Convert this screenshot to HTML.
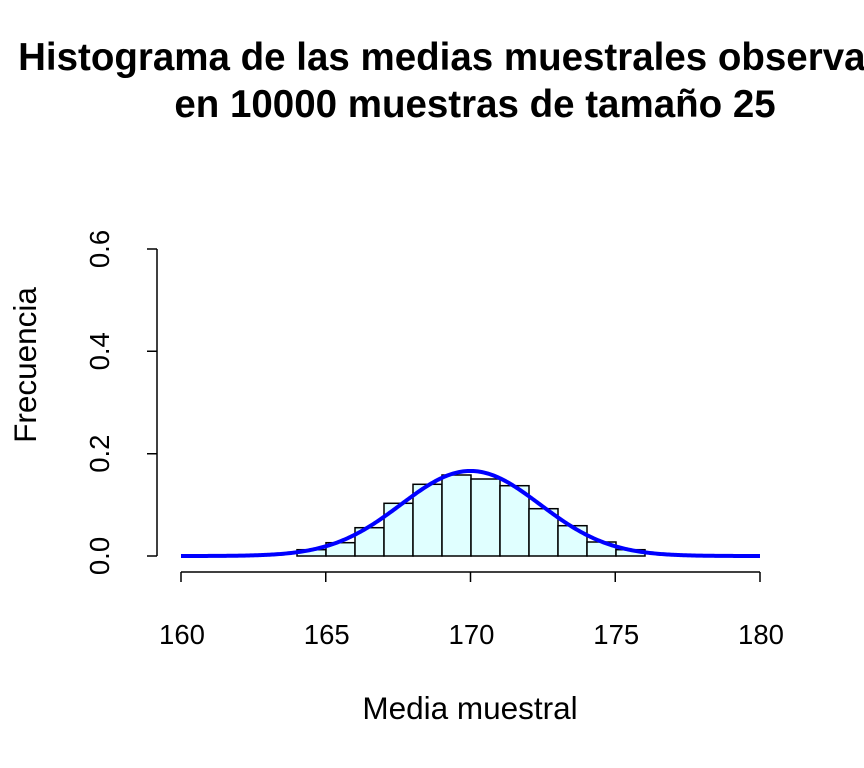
<!DOCTYPE html>
<html><head><meta charset="utf-8"><style>body{margin:0;background:#fff}svg{display:block}</style></head><body>
<svg width="864" height="768" xmlns="http://www.w3.org/2000/svg" font-family="Liberation Sans, Arial, sans-serif">
<rect width="864" height="768" fill="#fff"/>
<g font-weight="bold" font-size="38.5" text-anchor="middle">
<text x="475" y="70">Histograma de las medias muestrales observadas</text>
<text x="475" y="117">en 10000 muestras de tamaño 25</text>
</g>
<g stroke="#000" stroke-width="1.5" fill="#e0ffff">
<rect x="297" y="549.7" width="29" height="6.3"/>
<rect x="326" y="542.7" width="29" height="13.3"/>
<rect x="355" y="527.7" width="29" height="28.3"/>
<rect x="384" y="503.3" width="29" height="52.7"/>
<rect x="413" y="484.3" width="29" height="71.7"/>
<rect x="442" y="475" width="29" height="81"/>
<rect x="471" y="479" width="29" height="77"/>
<rect x="500" y="485.7" width="29" height="70.3"/>
<rect x="529" y="508.7" width="29" height="47.3"/>
<rect x="558" y="525.7" width="29" height="30.3"/>
<rect x="587" y="542" width="29" height="14"/>
<rect x="616" y="549.7" width="29" height="6.3"/>
</g>
<path id="curve" fill="none" stroke="#0000ff" stroke-width="4"/>
<g stroke="#000" stroke-width="1.5" fill="none">
<path d="M157 249V556M147 249H157M147 351.3H157M147 453.7H157M147 556H157"/>
<path d="M181 572H760M181 572V582M325.75 572V582M470.5 572V582M615.25 572V582M760 572V582"/>
</g>
<g font-size="27.5" text-anchor="middle">
<text transform="translate(109,249) rotate(-90)">0.6</text>
<text transform="translate(109,351.3) rotate(-90)">0.4</text>
<text transform="translate(109,453.7) rotate(-90)">0.2</text>
<text transform="translate(109,556) rotate(-90)">0.0</text>
<text x="182" y="644">160</text>
<text x="326.75" y="644">165</text>
<text x="471.5" y="644">170</text>
<text x="616.25" y="644">175</text>
<text x="761" y="644">180</text>
</g>
<g font-size="31.5" text-anchor="middle">
<text x="470" y="719">Media muestral</text>
<text transform="translate(36,365) rotate(-90)">Frecuencia</text>
</g>
<script>
var d="",sd=2.4;
for(var i=0;i<=400;i++){var x=160+i*0.05;var y=Math.exp(-Math.pow(x-170,2)/(2*sd*sd))/(sd*Math.sqrt(2*Math.PI));
var px=181+(x-160)*28.95,py=556-y*511.7;d+=(i?"L":"M")+px.toFixed(2)+" "+py.toFixed(2);}
document.getElementById("curve").setAttribute("d",d);
</script>
</svg>
</body></html>
